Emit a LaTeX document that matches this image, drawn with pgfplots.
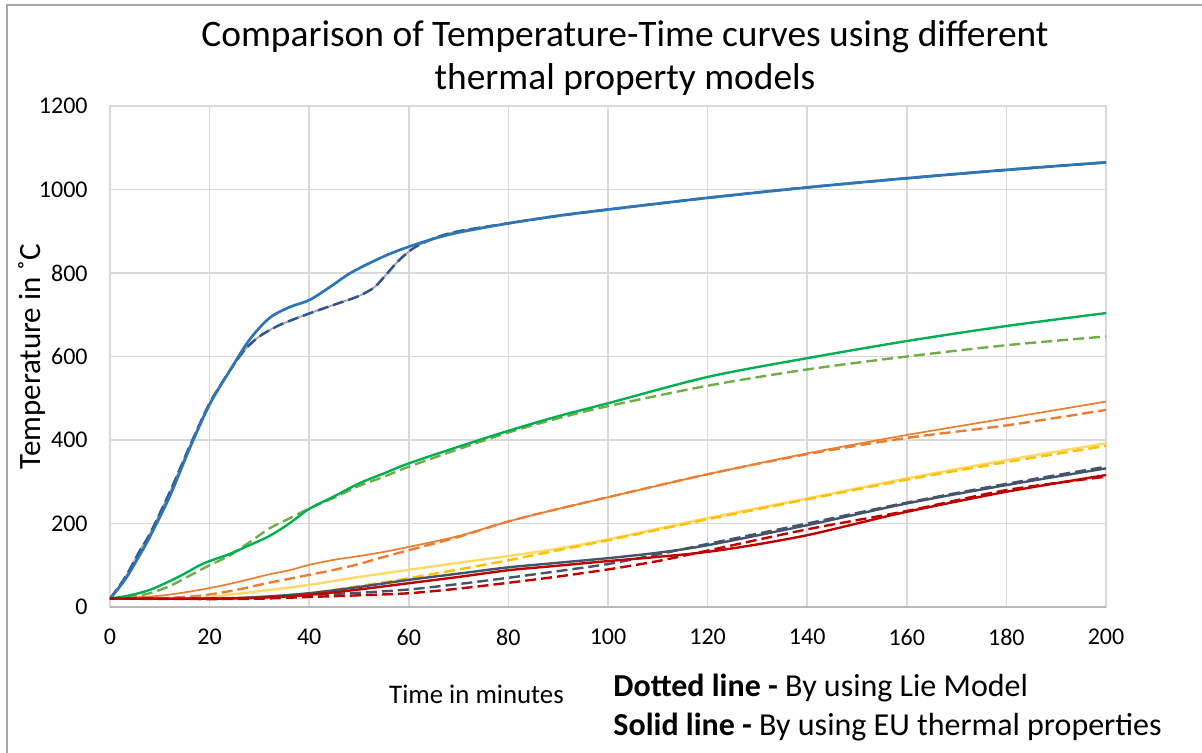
\documentclass[border=0pt]{standalone}
\usepackage{pgfplots}
\pgfplotsset{compat=1.18}
\usepackage{fontspec}
\setmainfont{Carlito}
\definecolor{bluesolid}{HTML}{2E75B6}
\definecolor{bluedash}{HTML}{2F5597}
\definecolor{greensolid}{HTML}{00B050}
\definecolor{greendash}{HTML}{70AD47}
\definecolor{orangec}{HTML}{ED7D31}
\definecolor{yellowsolid}{HTML}{FFD966}
\definecolor{yellowdash}{HTML}{FFC000}
\definecolor{slatec}{HTML}{44546A}
\definecolor{redc}{HTML}{C00000}
\definecolor{gridc}{HTML}{D9D9D9}
\definecolor{framec}{HTML}{A6A6A6}
\definecolor{greyc}{HTML}{A5A5A5}
\begin{document}
\begin{tikzpicture}
\path[use as bounding box] (-55bp,-73bp) rectangle (546bp,303.5bp);
\draw[framec, line width=1bp] (-51.5bp,-73bp) -- (-51.5bp,301bp) -- (546bp,301bp);
\begin{axis}[
  scale only axis,
  width=498bp, height=250.5bp,
  xmin=0, xmax=200, ymin=0, ymax=1200,
  xtick={0,20,...,200}, ytick={0,200,...,1200},
  grid=major,
  major grid style={gridc, line width=0.75bp},
  axis line style={gridc, line width=0.75bp},
  major tick length=0pt,
  /pgf/number format/assume math mode=true,
  /pgf/number format/set thousands separator={},
  tick label style={font=\fontsize{12bp}{14bp}\selectfont, inner sep=0pt},
  xticklabel shift=11bp,
  yticklabel shift=11bp,
  every axis plot/.append style={line width=1.2bp, smooth, tension=0.5},
  dashed style/.style={dash pattern=on 5.5bp off 2.5bp},
]
% blue dashed (Lie) with grey underlay
\addplot[greyc, line width=0.9bp] coordinates {(0,20)(3,70)(6,135)(8,175)(12,275)(16,385)(20,488)(24,565)(27,615)(30,648)(34,675)(40,703)(46,728)(50,745)(53,765)(55,790)(58,830)(61,860)(65,883)(70,900)(80,919)(90,937)(100,952)(120,980)(140,1005)(160,1027)(180,1047)(200,1065)};
\addplot[bluedash, line width=1.25bp, dashed style] coordinates {(0,20)(3,70)(6,135)(8,175)(12,275)(16,385)(20,488)(24,565)(27,615)(30,648)(34,675)(40,703)(46,728)(50,745)(53,765)(55,790)(58,830)(61,860)(65,883)(70,900)(80,919)(90,937)(100,952)(120,980)(140,1005)(160,1027)(180,1047)(200,1065)};
% blue solid (EU)
\addplot[bluesolid, line width=1.35bp] coordinates {(0,20)(3,65)(6,125)(8,168)(12,265)(16,380)(20,485)(24,565)(28,640)(32,692)(36,718)(40,735)(44,765)(48,798)(52,823)(56,845)(60,863)(65,882)(70,897)(80,919)(90,937)(100,952)(120,980)(140,1005)(160,1027)(180,1047)(200,1065)};
% green
\addplot[greendash, dashed style] coordinates {(0,20)(4,24)(8,33)(12,50)(16,75)(20,100)(24,123)(28,155)(32,188)(36,212)(40,236)(45,262)(50,290)(55,312)(60,336)(70,378)(80,418)(90,452)(100,481)(120,530)(140,569)(160,600)(180,627)(200,648)};
\addplot[greensolid] coordinates {(0,20)(4,28)(8,41)(12,62)(15,80)(18,100)(20,110)(24,127)(28,148)(32,170)(36,200)(40,235)(45,265)(50,296)(55,320)(60,344)(70,384)(80,422)(90,457)(100,488)(120,551)(140,596)(160,637)(180,673)(200,704)};
% orange
\addplot[orangec, dashed style] coordinates {(0,20)(10,21)(18,27)(25,40)(31.5,57)(40,77)(45,89)(50,103)(55,120)(60,136)(70,168)(80,205)(90,235)(100,263)(120,318)(140,366)(160,405)(180,435)(200,472)};
\addplot[orangec, line width=0.85bp] coordinates {(0,20)(10,27)(18,41)(25,58)(31.5,77)(36,88)(40,101)(45,113)(50,122)(55,132)(60,144)(70,170)(80,205)(90,235)(100,263)(120,318)(140,368)(160,412)(180,452)(200,492)};
% yellow
\addplot[yellowsolid] coordinates {(0,20)(15,21)(20,24)(30,38)(40,53)(50,72)(60,89)(70,106)(80,122)(90,140)(100,162)(120,213)(140,260)(160,308)(180,352)(200,392)};
\addplot[yellowdash, dashed style] coordinates {(0,20)(20,20)(30,24)(40,33)(50,50)(60,69)(70,90)(80,112)(90,136)(100,160)(120,210)(140,258)(160,305)(180,347)(200,386)};
% slate
\addplot[slatec, dashed style] coordinates {(0,20)(20,20)(30,21)(40,29)(50,34)(60,42)(70,55)(80,70)(90,86)(100,103)(110,126)(120,151)(140,200)(160,250)(180,295)(200,336)};
\addplot[slatec] coordinates {(0,20)(20,20)(30,24)(40,33)(50,48)(60,65)(70,80)(80,95)(90,106)(100,117)(110,130)(120,148)(140,196)(160,248)(180,292)(200,332)};
% red
\addplot[redc, dashed style] coordinates {(0,20)(20,19)(30,20)(40,24)(50,28)(60,33)(70,44)(80,58)(90,73)(100,90)(110,110)(120,135)(140,186)(160,230)(180,280)(200,312)};
\addplot[redc] coordinates {(0,20)(20,20)(30,22)(40,29)(50,42)(60,57)(70,72)(80,88)(90,99)(100,110)(110,120)(120,132)(130,150)(140,172)(150,200)(160,228)(180,276)(200,316)};
\end{axis}
\draw[gray!55, line width=0.9bp] (0,0) -- (498bp,0);
\node[anchor=base, inner sep=0pt, font=\fontsize{18.7bp}{22bp}\selectfont] at (257.5bp,280bp) {Comparison of Temperature-Time curves using different};
\node[anchor=base, inner sep=0pt, font=\fontsize{18.7bp}{22bp}\selectfont] at (257.5bp,258.5bp) {thermal property models};
\node[anchor=base, inner sep=0pt, rotate=90, font=\fontsize{15.5bp}{18bp}\selectfont] at (-35bp,125.25bp) {Temperature in ˚C};
\node[anchor=base, inner sep=0pt, font=\fontsize{13.4bp}{16bp}\selectfont] at (183.25bp,-48bp) {Time in minutes};
\node[anchor=base west, inner sep=0pt, font=\fontsize{16bp}{19bp}\selectfont] at (251.5bp,-44.5bp) {\textbf{Dotted line -} By using Lie Model};
\node[anchor=base west, inner sep=0pt, font=\fontsize{16bp}{19bp}\selectfont] at (251.5bp,-64bp) {\textbf{Solid line -} By using EU thermal properties};
\end{tikzpicture}
\end{document}
